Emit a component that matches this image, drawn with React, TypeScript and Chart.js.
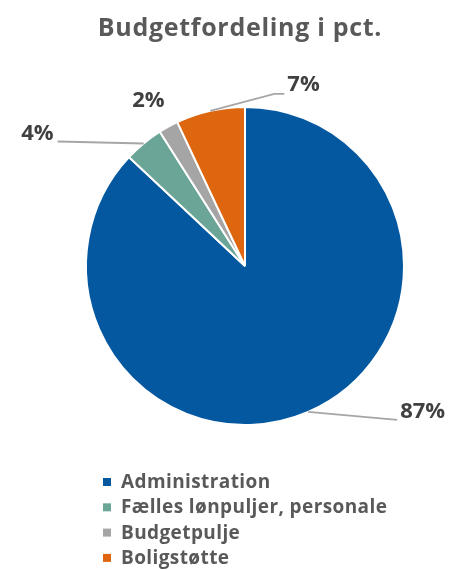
import React, { useEffect, useRef } from "react";
import { Chart, registerables } from "chart.js";

Chart.register(...registerables);

const chartTitle = "Budgetfordeling i pct.";
const categories = ["Administration", "Fælles lønpuljer, personale", "Budgetpulje", "Boligstøtte"];
const shares = [87, 4, 2, 7];
const shareLabels = ["87%", "4%", "2%", "7%"];
const sliceColors = ["#0458A0", "#6BA598", "#A5A5A5", "#DE660E"];

const FONT = "'Open Sans', Lato, sans-serif";
const TEXT_COLOR = "#595959";
const LABEL_COLOR = "#404040";
const LEADER_COLOR = "#A6A6A6";

// leader-line geometry for each label, relative to the slice's outer edge point
const LABEL_LAYOUT = [
  { path: [[89, 8]], align: "left", dx: 3, dy: -8 },
  { path: [[-86, -2]], align: "right", dx: -4, dy: -8 },
  { path: [], align: "center", dx: -20, dy: -26 },
  { path: [[64, -17], [74, -17]], align: "left", dx: 3, dy: -9 },
];

const overlayPlugin = {
  id: "overlay",
  afterDraw(chart: any) {
    const ctx = chart.ctx as CanvasRenderingContext2D & { letterSpacing?: string };
    const meta = chart.getDatasetMeta(0);
    ctx.save();
    // title
    ctx.fillStyle = TEXT_COLOR;
    ctx.font = `bold 25px ${FONT}`;
    ctx.letterSpacing = "0.7px";
    ctx.textAlign = "center";
    ctx.textBaseline = "alphabetic";
    ctx.fillText(chartTitle, 240, 36);

    // data labels with leader lines
    ctx.letterSpacing = "0px";
    meta.data.forEach((arc: any, i: number) => {
      const mid = (arc.startAngle + arc.endAngle) / 2;
      const r = arc.outerRadius;
      const px = arc.x + Math.cos(mid) * r;
      const py = arc.y + Math.sin(mid) * r;
      const lay = LABEL_LAYOUT[i];
      let ex = px, ey = py;
      if (lay.path.length) {
        ctx.strokeStyle = LEADER_COLOR;
        ctx.lineWidth = 1.8;
        ctx.beginPath();
        ctx.moveTo(px, py);
        lay.path.forEach(([dx, dy]) => {
          ex = px + dx;
          ey = py + dy;
          ctx.lineTo(ex, ey);
        });
        ctx.stroke();
      }
      ctx.fillStyle = LABEL_COLOR;
      ctx.font = `bold 22px ${FONT}`;
      ctx.textAlign = lay.align as CanvasTextAlign;
      ctx.textBaseline = "middle";
      ctx.fillText(shareLabels[i], ex + lay.dx, ey + lay.dy);
    });

    // legend
    const labels = chart.data.labels as string[];
    const bg = chart.data.datasets[0].backgroundColor as string[];
    ctx.font = `bold 19px ${FONT}`;
    ctx.letterSpacing = "0.4px";
    ctx.textAlign = "left";
    ctx.textBaseline = "alphabetic";
    labels.forEach((lab, i) => {
      const y = 488 + i * 25.3;
      ctx.fillStyle = bg[i];
      ctx.fillRect(103, y - 10, 8, 8);
      ctx.fillStyle = TEXT_COLOR;
      ctx.fillText(lab, 121, y);
    });
    ctx.restore();
  },
};

export default function App() {
  const ref = useRef<HTMLCanvasElement | null>(null);
  useEffect(() => {
    if (!ref.current) return;
    const chart = new Chart(ref.current, {
      type: "pie",
      data: {
        labels: categories,
        datasets: [
          {
            data: shares,
            backgroundColor: sliceColors,
            borderColor: "#FFFFFF",
            borderWidth: 2,
          },
        ],
      },
      options: {
        animation: false,
        responsive: true,
        maintainAspectRatio: false,
        layout: { padding: { left: 85, right: 57, top: 106, bottom: 144 } },
        plugins: {
          legend: { display: false },
          title: { display: false },
          tooltip: { enabled: false },
        },
      },
      plugins: [overlayPlugin],
    });
    return () => chart.destroy();
  }, []);
  return (
    <div style={{ position: "fixed", left: 0, top: 0, width: 462, height: 570, background: "#fff" }}>
      <canvas ref={ref} />
    </div>
  );
}
